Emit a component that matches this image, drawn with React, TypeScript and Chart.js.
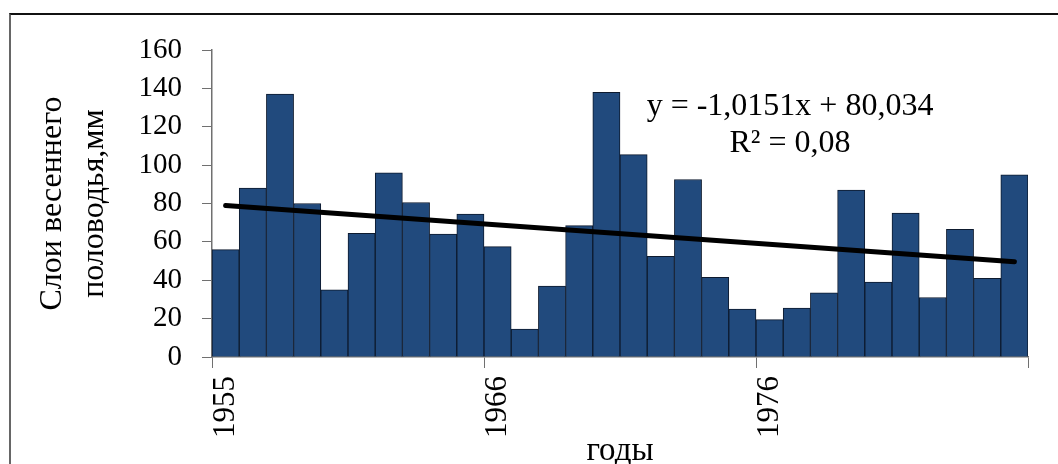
import React, { useEffect, useRef } from 'react';
import { Chart, registerables } from 'chart.js';

Chart.register(...registerables);

// ---- data ----
const years = [
  1955, 1956, 1957, 1958, 1959, 1960, 1961, 1962, 1963, 1964,
  1965, 1966, 1967, 1968, 1969, 1970, 1971, 1972, 1973, 1974,
  1975, 1976, 1977, 1978, 1979, 1980, 1981, 1982, 1983, 1984,
];
const layerMm = [
  56, 88, 137, 80, 35, 64.5, 96, 80.5, 64, 74.5,
  57.5, 14.5, 37, 68.5, 138, 105.5, 52.5, 92.5, 41.5, 25,
  19.5, 25.5, 33.5, 87, 39, 75, 31, 66.5, 41, 95,
];
const xTickPositions = [0, 10, 20, 30];
const xTickLabels = ['1955', '1966', '1976', ''];
const yTicksMax = 160;
const yTicksStep = 20;
const trendSlope = -1.0151;
const trendIntercept = 80.034;
const equationLines = ['y = -1,0151x + 80,034', 'R\u00B2 = 0,08'];
const yTitleLines = ['Слои весеннего', 'половодья,мм'];
const xTitle = 'годы';

const SERIF = '"Liberation Serif", "Times New Roman", serif';

const equationPlugin = {
  id: 'equationText',
  afterDraw(chart: any) {
    const { ctx, chartArea } = chart;
    ctx.save();
    ctx.font = `32px ${SERIF}`;
    ctx.fillStyle = '#000';
    ctx.textAlign = 'center';
    ctx.textBaseline = 'alphabetic';
    const cx = chartArea.left + 578;
    ctx.fillText(equationLines[0], cx, chartArea.top + 65);
    ctx.fillText(equationLines[1], cx, chartArea.top + 102);
    ctx.restore();
  },
};

export default function App() {
  const ref = useRef<HTMLCanvasElement | null>(null);

  useEffect(() => {
    if (!ref.current) return;
    const barData = years.map((_, i) => ({ x: i + 0.5, y: layerMm[i] }));
    const n = years.length;
    const trendData = [
      { x: 0.5, y: trendIntercept + trendSlope * 1 },
      { x: n - 0.5, y: trendIntercept + trendSlope * n },
    ];
    const axisColor = '#707070';
    const chart = new Chart(ref.current, {
      type: 'bar',
      data: {
        datasets: [
          {
            type: 'line',
            data: trendData,
            borderColor: '#000',
            borderWidth: 5,
            pointRadius: 0,
            borderCapStyle: 'round',
            order: 0,
          } as any,
          {
            type: 'bar',
            data: barData,
            backgroundColor: '#214A7D',
            borderColor: '#0d1a2e',
            borderWidth: 1,
            barPercentage: 1,
            categoryPercentage: 1,
            order: 1,
          } as any,
        ],
      },
      options: {
        animation: false,
        responsive: false,
        maintainAspectRatio: false,
        layout: { padding: { left: 0, right: 30, top: 50, bottom: 0 } },
        plugins: {
          legend: { display: false },
          tooltip: { enabled: false },
        },
        scales: {
          x: {
            type: 'linear',
            min: 0,
            max: n,
            offset: false,
            afterFit(scale: any) {
              scale.height = 107;
              scale.paddingLeft = 0;
              scale.paddingRight = 0;
            },
            afterBuildTicks(scale: any) {
              scale.ticks = xTickPositions.map((v) => ({ value: v }));
            },
            grid: {
              offset: false,
              drawOnChartArea: false,
              drawTicks: true,
              tickLength: 11,
              color: axisColor,
              lineWidth: 1,
            },
            border: { display: true, color: axisColor, width: 1.5 },
            ticks: {
              minRotation: 90,
              maxRotation: 90,
              padding: 8,
              labelOffset: 14,
              color: '#000',
              font: { family: SERIF, size: 31 },
              callback: (value: any) => {
                const k = xTickPositions.indexOf(Number(value));
                return k >= 0 ? xTickLabels[k] : '';
              },
            },
            title: {
              display: true,
              text: xTitle,
              color: '#000',
              font: { family: SERIF, size: 33, lineHeight: 0.75 },
              padding: 0,
            },
          },
          y: {
            min: 0,
            max: yTicksMax,
            afterFit(scale: any) {
              scale.width = 212;
            },
            grid: {
              drawOnChartArea: false,
              drawTicks: true,
              tickLength: 10,
              color: axisColor,
              lineWidth: 1,
            },
            border: { display: true, color: axisColor, width: 1.5 },
            ticks: {
              stepSize: yTicksStep,
              padding: 20,
              color: '#000',
              font: { family: SERIF, size: 29 },
            },
            title: {
              display: true,
              text: yTitleLines,
              color: '#000',
              font: { family: SERIF, size: 32, lineHeight: 1.3 },
              padding: { top: 32, bottom: 0 },
            },
          },
        },
      },
      plugins: [equationPlugin],
    });
    return () => chart.destroy();
  }, []);

  return (
    <div
      style={{
        position: 'fixed',
        left: 0,
        top: 0,
        width: 1058,
        height: 464,
        overflow: 'hidden',
        background: '#fff',
      }}
    >
      <div
        style={{
          position: 'absolute',
          left: 9,
          top: 13,
          width: 1200,
          height: 600,
          borderTop: '2px solid #111',
          borderLeft: '2px solid #666',
        }}
      />
      <canvas
        ref={ref}
        width={1058}
        height={464}
        style={{ position: 'absolute', left: 0, top: 0, width: 1058, height: 464 }}
      />
    </div>
  );
}
